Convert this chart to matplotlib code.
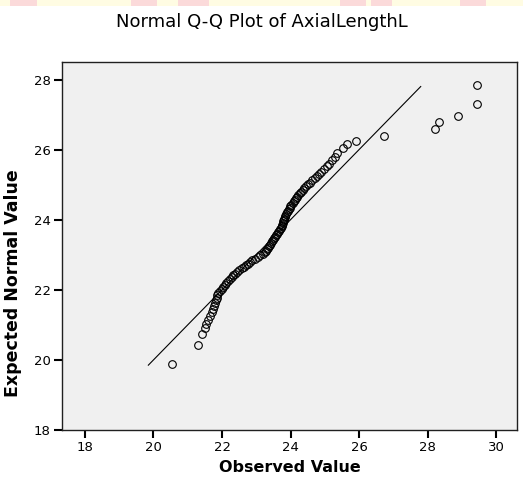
import matplotlib
matplotlib.use("Agg")
import matplotlib.pyplot as plt
from matplotlib.patches import Rectangle

# ── Data ────────────────────────────────────────────────────────────────
observed = [
    20.53, 21.29, 21.43, 21.49, 21.54, 21.60, 21.66, 21.70, 21.73, 21.76,
    21.79, 21.82, 21.84, 21.86, 21.88, 21.93, 21.99, 22.04, 22.09, 22.13,
    22.18, 22.23, 22.28, 22.33, 22.38, 22.45, 22.51, 22.58, 22.64, 22.70,
    22.76, 22.82, 22.88, 22.96, 23.04, 23.12, 23.19, 23.25, 23.29, 23.32,
    23.35, 23.38, 23.41, 23.43, 23.46, 23.48, 23.51, 23.54, 23.57, 23.61,
    23.64, 23.67, 23.70, 23.73, 23.75, 23.76, 23.77, 23.79, 23.80, 23.82,
    23.84, 23.85, 23.87, 23.90, 23.92, 23.95, 23.97, 23.99, 24.02, 24.06,
    24.09, 24.13, 24.16, 24.20, 24.23, 24.27, 24.30, 24.35, 24.40, 24.45,
    24.51, 24.57, 24.63, 24.70, 24.77, 24.83, 24.90, 24.97, 25.05, 25.12,
    25.21, 25.29, 25.37, 25.52, 25.65, 25.90, 26.72, 28.22, 28.32, 28.90,
    29.43, 29.43,
]
expected = [
    19.89, 20.42, 20.73, 20.90, 21.03, 21.15, 21.26, 21.36, 21.45, 21.54,
    21.62, 21.70, 21.77, 21.84, 21.91, 21.97, 22.03, 22.09, 22.15, 22.20,
    22.26, 22.31, 22.36, 22.41, 22.46, 22.51, 22.56, 22.61, 22.66, 22.70,
    22.75, 22.80, 22.84, 22.89, 22.93, 22.98, 23.02, 23.07, 23.11, 23.16,
    23.20, 23.25, 23.29, 23.33, 23.38, 23.42, 23.47, 23.51, 23.55, 23.60,
    23.64, 23.69, 23.73, 23.77, 23.82, 23.86, 23.90, 23.95, 23.99, 24.03,
    24.08, 24.12, 24.17, 24.21, 24.25, 24.30, 24.34, 24.39, 24.43, 24.48,
    24.52, 24.57, 24.61, 24.66, 24.71, 24.75, 24.80, 24.85, 24.90, 24.95,
    25.01, 25.06, 25.12, 25.18, 25.24, 25.30, 25.37, 25.44, 25.52, 25.60,
    25.69, 25.79, 25.90, 26.04, 26.16, 26.26, 26.40, 26.59, 26.78, 26.95,
    27.29, 27.83,
]
ref_line = [19.85, 27.80]          # y = x reference line, start / end
x_ticks = [18, 20, 22, 24, 26, 28, 30]
y_ticks = [18, 20, 22, 24, 26, 28]

TITLE = "Normal Q-Q Plot of AxialLengthL"
BG_PLOT = "#F0F0F0"

fig = plt.figure(figsize=(5.23, 4.78), dpi=100)

# faint coloured strip along the top edge (page crop artefact)
fig.patches.append(Rectangle((0, 0.987), 1, 0.013, transform=fig.transFigure,
                             facecolor="#FFFCE3", edgecolor="none"))
for x0, w in [(0.02, 0.05), (0.25, 0.05), (0.34, 0.06), (0.65, 0.05),
              (0.71, 0.04), (0.88, 0.05)]:
    fig.patches.append(Rectangle((x0, 0.987), w, 0.013, transform=fig.transFigure,
                                 facecolor="#FBDADA", edgecolor="none"))

ax = fig.add_axes([62 / 523, 1 - 430 / 478, 455 / 523, 368 / 478])
ax.set_facecolor(BG_PLOT)

ax.plot(ref_line, ref_line, color="black", lw=0.8)
ax.plot(observed, expected, linestyle="none", marker="o", markersize=5.5,
        markerfacecolor="none", markeredgecolor="black", markeredgewidth=0.8)

ax.set_xlim(17.33, 30.61)
ax.set_ylim(18, 28.5)
ax.set_xticks(x_ticks)
ax.set_yticks(y_ticks)
ax.tick_params(axis="both", direction="out", length=6, width=1.5,
               labelsize=9.5, pad=2)

for s in ax.spines.values():
    s.set_linewidth(1.0)
    s.set_color("#202020")

ax.set_xlabel("Observed Value", fontsize=11.5, fontweight="bold", labelpad=4)
ax.set_ylabel("Expected Normal Value", fontsize=12.5, fontweight="bold")
ax.yaxis.set_label_coords(-0.088, 0.40)

fig.text(0.5, 1 - 22 / 478, TITLE, ha="center", va="center", fontsize=13)

fig.savefig("out.png", dpi=100)
